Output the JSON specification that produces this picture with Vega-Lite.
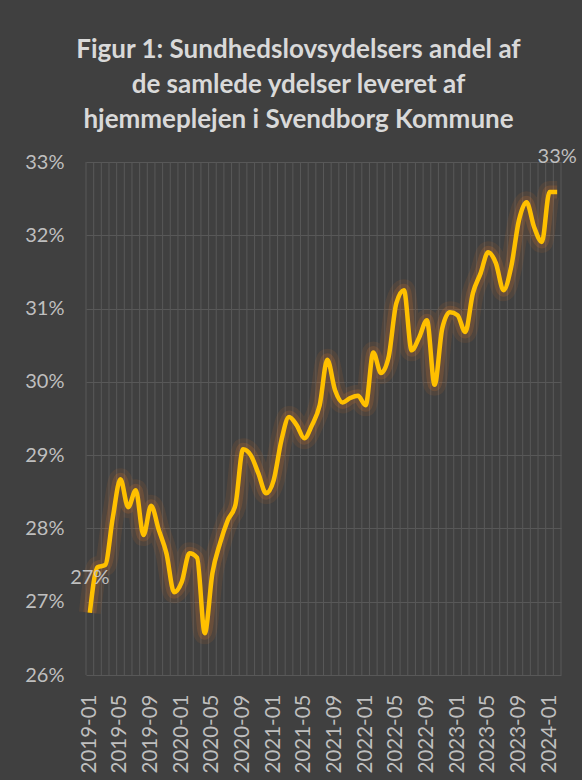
{
  "$schema": "https://vega.github.io/schema/vega-lite/v6.json",
  "autosize": "none",
  "width": 475,
  "height": 513,
  "padding": {"left": 86, "top": 162, "right": 21, "bottom": 105},
  "background": "#404040",
  "title": {
    "text": ["Figur 1: Sundhedslovsydelsers andel af", "de samlede ydelser leveret af", "hjemmeplejen i Svendborg Kommune"],
    "font": "Lato",
    "fontSize": 26,
    "fontWeight": "bold",
    "color": "#d9d9d9",
    "lineHeight": 35,
    "anchor": "middle",
    "frame": "group",
    "dx": -25,
    "offset": 14
  },
  "data": {
    "values": [
      {"m": "2019-01", "v": 0.2685}, {"m": "2019-02", "v": 0.2747}, {"m": "2019-03", "v": 0.2750},
      {"m": "2019-04", "v": 0.2815}, {"m": "2019-05", "v": 0.2867}, {"m": "2019-06", "v": 0.2829},
      {"m": "2019-07", "v": 0.2852}, {"m": "2019-08", "v": 0.2791}, {"m": "2019-09", "v": 0.2831},
      {"m": "2019-10", "v": 0.2798}, {"m": "2019-11", "v": 0.2766}, {"m": "2019-12", "v": 0.2713},
      {"m": "2020-01", "v": 0.2727}, {"m": "2020-02", "v": 0.2766}, {"m": "2020-03", "v": 0.2760},
      {"m": "2020-04", "v": 0.2657}, {"m": "2020-05", "v": 0.2739}, {"m": "2020-06", "v": 0.2780},
      {"m": "2020-07", "v": 0.2811}, {"m": "2020-08", "v": 0.2832}, {"m": "2020-09", "v": 0.2908},
      {"m": "2020-10", "v": 0.2900}, {"m": "2020-11", "v": 0.2875}, {"m": "2020-12", "v": 0.2848},
      {"m": "2021-01", "v": 0.2866}, {"m": "2021-02", "v": 0.2920}, {"m": "2021-03", "v": 0.2952},
      {"m": "2021-04", "v": 0.2941}, {"m": "2021-05", "v": 0.2923}, {"m": "2021-06", "v": 0.2941},
      {"m": "2021-07", "v": 0.2968}, {"m": "2021-08", "v": 0.3030}, {"m": "2021-09", "v": 0.2989},
      {"m": "2021-10", "v": 0.2972}, {"m": "2021-11", "v": 0.2978}, {"m": "2021-12", "v": 0.2981},
      {"m": "2022-01", "v": 0.2968}, {"m": "2022-02", "v": 0.3040}, {"m": "2022-03", "v": 0.3012},
      {"m": "2022-04", "v": 0.3034}, {"m": "2022-05", "v": 0.3107}, {"m": "2022-06", "v": 0.3125},
      {"m": "2022-07", "v": 0.3043}, {"m": "2022-08", "v": 0.3061}, {"m": "2022-09", "v": 0.3084},
      {"m": "2022-10", "v": 0.2996}, {"m": "2022-11", "v": 0.3073}, {"m": "2022-12", "v": 0.3095},
      {"m": "2023-01", "v": 0.3091}, {"m": "2023-02", "v": 0.3068}, {"m": "2023-03", "v": 0.3121},
      {"m": "2023-04", "v": 0.3148}, {"m": "2023-05", "v": 0.3177}, {"m": "2023-06", "v": 0.3162},
      {"m": "2023-07", "v": 0.3125}, {"m": "2023-08", "v": 0.3157}, {"m": "2023-09", "v": 0.3220},
      {"m": "2023-10", "v": 0.3245}, {"m": "2023-11", "v": 0.3211}, {"m": "2023-12", "v": 0.3191},
      {"m": "2024-01", "v": 0.3259}, {"m": "2024-02", "v": 0.3259}
    ]
  },
  "layer": [
    {
      "mark": {"type": "rule", "color": "#585858", "strokeWidth": 1},
      "encoding": {
        "x": {
          "field": "m",
          "type": "ordinal",
          "sort": null,
          "bandPosition": 0,
          "scale": {"type": "band", "paddingInner": 0, "paddingOuter": 0},
          "axis": {
            "title": null,
            "grid": false,
            "ticks": false,
            "domain": false,
            "labelAngle": -90,
            "labelOverlap": false,
            "labelPadding": 19,
            "labelFont": "Lato",
            "labelFontSize": 20.5,
            "labelColor": "#bfbfbf",
            "labelExpr": "(slice(datum.value, 5) == '01' || slice(datum.value, 5) == '05' || slice(datum.value, 5) == '09') ? datum.value : ''"
          }
        }
      }
    },
    {
      "transform": [{"filter": "datum.m == '2024-02'"}],
      "mark": {"type": "rule", "color": "#585858", "strokeWidth": 1},
      "encoding": {
        "x": {"field": "m", "type": "ordinal", "sort": null, "bandPosition": 1}
      }
    },
    {
      "mark": {"type": "line", "interpolate": "monotone", "color": "#e07a2a", "strokeWidth": 22, "opacity": 0.1},
      "encoding": {
        "x": {"field": "m", "type": "ordinal", "sort": null},
        "y": {
          "field": "v",
          "type": "quantitative",
          "scale": {"domain": [0.26, 0.33], "nice": false, "zero": false},
          "axis": {
            "title": null,
            "values": [0.26, 0.27, 0.28, 0.29, 0.30, 0.31, 0.32, 0.33],
            "format": ".0%",
            "grid": true,
            "gridColor": "#585858",
            "gridWidth": 1,
            "ticks": false,
            "domain": false,
            "labelPadding": 22,
            "labelFont": "Lato",
            "labelFontSize": 20,
            "labelColor": "#bfbfbf"
          }
        }
      }
    },
    {
      "mark": {"type": "line", "interpolate": "monotone", "color": "#e07a2a", "strokeWidth": 13, "opacity": 0.18},
      "encoding": {
        "x": {"field": "m", "type": "ordinal", "sort": null},
        "y": {"field": "v", "type": "quantitative"}
      }
    },
    {
      "mark": {"type": "line", "interpolate": "monotone", "color": "#ffc000", "strokeWidth": 4.5},
      "encoding": {
        "x": {"field": "m", "type": "ordinal", "sort": null},
        "y": {"field": "v", "type": "quantitative"}
      }
    },
    {
      "transform": [{"filter": "datum.m == '2019-01' || datum.m == '2024-02'"}],
      "mark": {"type": "text", "dy": -35, "font": "Lato", "fontSize": 20, "color": "#bfbfbf"},
      "encoding": {
        "x": {"field": "m", "type": "ordinal", "sort": null},
        "y": {"field": "v", "type": "quantitative"},
        "text": {"field": "v", "type": "quantitative", "format": ".0%"}
      }
    }
  ],
  "config": {"view": {"stroke": null}}
}
